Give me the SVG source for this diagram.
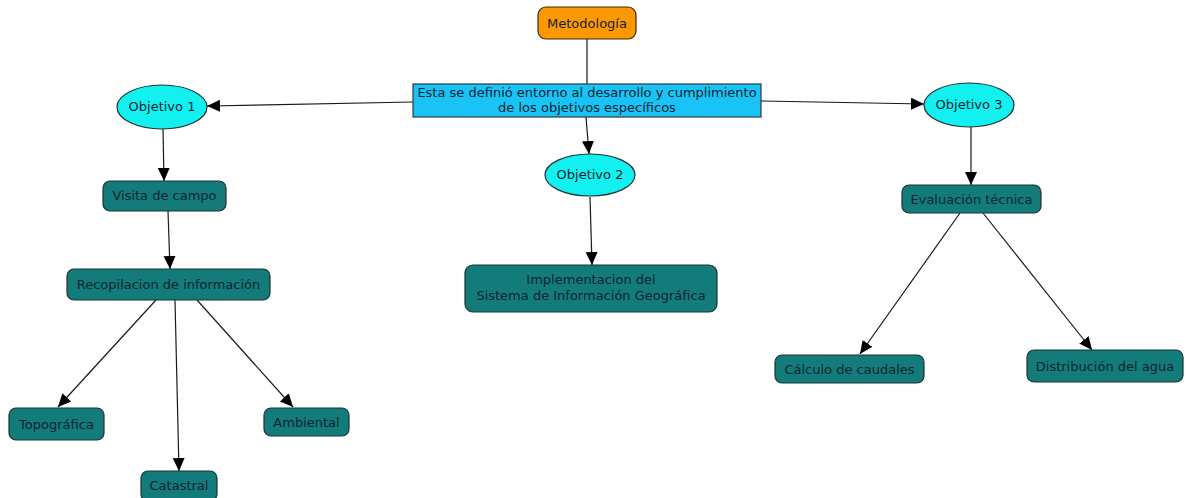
<svg xmlns="http://www.w3.org/2000/svg" width="1186" height="498" viewBox="0 0 1186 498">
<style>
text{font-family:"DejaVu Sans",Verdana,sans-serif;font-size:13px;fill:#0d2430;text-anchor:middle}
.box{fill:#137c7a;stroke:#1d3232;stroke-width:1.2}
.ell{fill:#12f0f0;stroke:#1d3232;stroke-width:1.2}
.edge{stroke:#1a1a1a;stroke-width:1.2;fill:none}
.arr{marker-end:url(#ah)}
</style>
<defs>
<marker id="ah" markerUnits="userSpaceOnUse" markerWidth="14" markerHeight="14" viewBox="0 0 14 14" refX="13" refY="7" orient="auto">
<path d="M0,1 L13,7 L0,13 Z" fill="#000"/>
</marker>
</defs>
<g id="connectors">
<path class="edge" d="M587,39 L587,84"/>
<path class="edge arr" d="M413,102 L207,106"/>
<path class="edge arr" d="M586,117 L589,154"/>
<path class="edge arr" d="M761,101 L924,104"/>
<path class="edge arr" d="M163,129 L164,181"/>
<path class="edge arr" d="M168,211 L170,269"/>
<path class="edge arr" d="M156,300 L58,407"/>
<path class="edge arr" d="M175,300 L179,471"/>
<path class="edge arr" d="M197,300 L293,407"/>
<path class="edge arr" d="M590,197 L592,265"/>
<path class="edge arr" d="M971,127 L971,185"/>
<path class="edge arr" d="M960,213 L860,354"/>
<path class="edge arr" d="M983,213 L1092,350"/>
</g>
<g id="metodologia">
<rect x="538" y="7" width="98" height="32" rx="8" fill="#ff9800" stroke="#3a2a10" stroke-width="1.2"/>
<text x="587" y="28">Metodología</text>
</g>
<g id="central">
<rect x="413" y="84" width="348" height="33" fill="#19c3f5" stroke="#2a3a45" stroke-width="1.2"/>
<text x="587" y="97">Esta se definió entorno al desarrollo y cumplimiento</text>
<text x="587" y="112">de los objetivos específicos</text>
</g>
<g id="objetivo1">
<ellipse class="ell" cx="162" cy="107" rx="45" ry="22"/>
<text x="162" y="111">Objetivo 1</text>
</g>
<g id="objetivo2">
<ellipse class="ell" cx="590" cy="175" rx="45" ry="21"/>
<text x="590" y="179">Objetivo 2</text>
</g>
<g id="objetivo3">
<ellipse class="ell" cx="969" cy="105" rx="45" ry="22"/>
<text x="969" y="109">Objetivo 3</text>
</g>
<g id="visita">
<rect class="box" x="103" y="181" width="123" height="30" rx="7"/>
<text x="164.5" y="200">Visita de campo</text>
</g>
<g id="recopilacion">
<rect class="box" x="67" y="269" width="203" height="31" rx="7"/>
<text x="168.5" y="289">Recopilacion de información</text>
</g>
<g id="topografica">
<rect class="box" x="9" y="408" width="95" height="32" rx="7"/>
<text x="56.5" y="429">Topográfica</text>
</g>
<g id="catastral">
<rect class="box" x="141" y="471" width="76" height="30" rx="7"/>
<text x="179" y="490">Catastral</text>
</g>
<g id="ambiental">
<rect class="box" x="264" y="408" width="85" height="28" rx="7"/>
<text x="306.5" y="427">Ambiental</text>
</g>
<g id="implementacion">
<rect class="box" x="465" y="265" width="252" height="47" rx="8"/>
<text x="591" y="284">Implementacion del</text>
<text x="591" y="300">Sistema de Información Geográfica</text>
</g>
<g id="evaluacion">
<rect class="box" x="902" y="185" width="139" height="28" rx="7"/>
<text x="971.5" y="204">Evaluación técnica</text>
</g>
<g id="calculo">
<rect class="box" x="775" y="355" width="149" height="28" rx="7"/>
<text x="849.5" y="374">Cálculo de caudales</text>
</g>
<g id="distribucion">
<rect class="box" x="1027" y="350" width="156" height="32" rx="7"/>
<text x="1105" y="371">Distribución del agua</text>
</g>
</svg>
